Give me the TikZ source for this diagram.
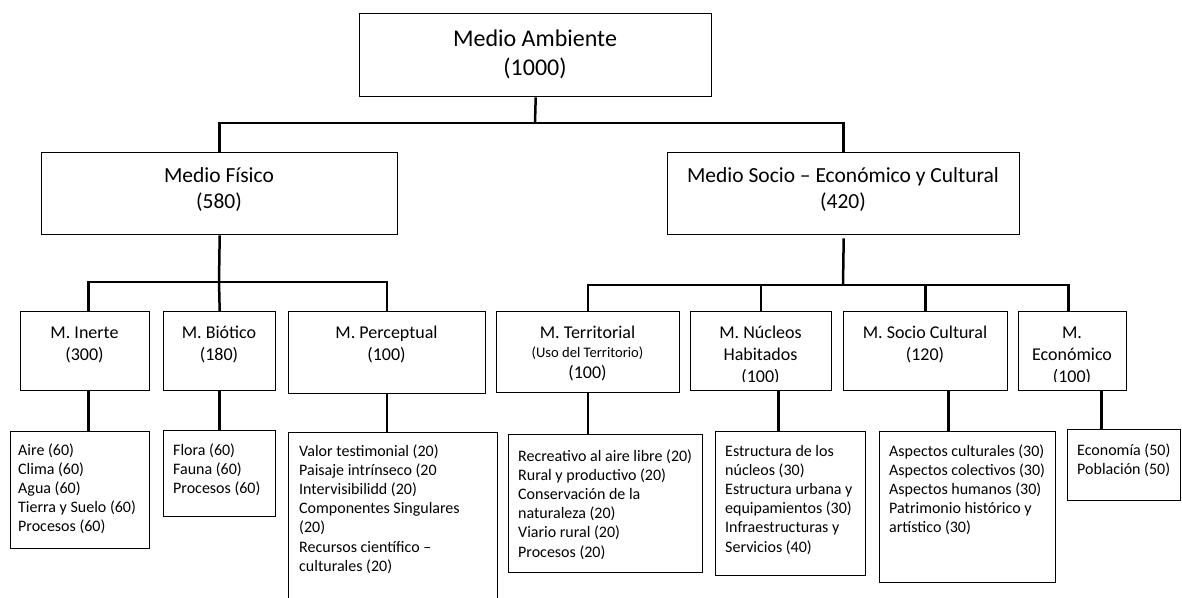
\documentclass[tikz,border=0pt]{standalone}
\usepackage{fontspec}
\setmainfont{Carlito}
\begin{document}
\begin{tikzpicture}[x=1pt,y=-1pt,
  box/.style={draw=black, line width=1.4pt, inner sep=0pt, anchor=north west},
  conn/.style={draw=black, line width=2.5pt},
  % text nodes are placed by the baseline of their last line
  tA/.style={inner sep=0pt, anchor=base, align=center, font=\fontsize{24}{29}\selectfont},
  tB/.style={inner sep=0pt, anchor=base, align=center, font=\fontsize{21.5}{26}\selectfont},
  tC/.style={inner sep=0pt, anchor=base, align=center, font=\fontsize{18}{22}\selectfont},
  lst/.style={inner sep=0pt, anchor=base west, align=left, font=\fontsize{16}{19.2}\selectfont}]
\clip (0,0) rectangle (1182,597);

% level 0
\node[box, minimum width=352pt, minimum height=83pt] (top) at (359,13) {};
% level 1
\node[box, minimum width=356pt, minimum height=82pt] (mf) at (41,152) {};
\node[box, minimum width=352pt, minimum height=82pt] (ms) at (667,152) {};
% level 2
\node[box, minimum width=129pt, minimum height=79pt] (inerte) at (20,311) {};
\node[box, minimum width=112pt, minimum height=79pt] (biotico) at (163,311) {};
\node[box, minimum width=197pt, minimum height=82pt] (percep) at (288,311) {};
\node[box, minimum width=183pt, minimum height=81pt] (territ) at (496,311) {};
\node[box, minimum width=141pt, minimum height=79pt] (nucleos) at (690,311) {};
\node[box, minimum width=164pt, minimum height=79pt] (socio) at (843,311) {};
\node[box, minimum width=108pt, minimum height=79pt] (econ) at (1018,311) {};
% lists
\node[box, minimum width=139pt, minimum height=117pt] (linerte) at (10,431) {};
\node[box, minimum width=112pt, minimum height=86pt] (lbiotico) at (163,430) {};
\node[box, minimum width=209pt, minimum height=200pt] (lpercep) at (288,432) {};
\node[box, minimum width=194pt, minimum height=138pt] (lterrit) at (508,434) {};
\node[box, minimum width=150pt, minimum height=144pt] (lnucleos) at (715,431) {};
\node[box, minimum width=176pt, minimum height=151pt] (lsocio) at (879,431) {};
\node[box, minimum width=113pt, minimum height=71pt] (lecon) at (1067,429) {};

% connectors
\coordinate (bus0) at (535,123);
\coordinate (bus1) at (219,282);
\coordinate (bus2) at (843,285);
\draw[conn] (top.south) -- (bus0);
\draw[conn] (mf.north) |- (bus0) -| (ms.north);
\draw[conn] (mf.south) -- (bus1);
\draw[conn] ([xshift=3.5pt]inerte.north) |- (bus1) -| (percep.north);
\draw[conn] (biotico.north) -- (bus1);
\draw[conn] ([yshift=-3pt]ms.south) -- (bus2);
\draw[conn] (territ.north) |- (bus2) -| ([xshift=-4pt]econ.north);
\draw[conn] (nucleos.north) -- (nucleos.north |- bus2);
\draw[conn] (socio.north) -- (socio.north |- bus2);
\draw[conn] ([xshift=3.5pt]inerte.south) -- ([xshift=3.5pt]inerte.south |- linerte.north);
\draw[conn] (biotico.south) -- (biotico.south |- lbiotico.north);
\draw[conn] (percep.south) -- (percep.south |- lpercep.north);
\draw[conn] (territ.south) -- (territ.south |- lterrit.north);
\draw[conn] ([xshift=17.5pt]nucleos.south) -- ([xshift=17.5pt]nucleos.south |- lnucleos.north);
\draw[conn] ([xshift=23pt]socio.south) -- ([xshift=23pt]socio.south |- lsocio.north);
\draw[conn] ([xshift=29pt]econ.south) -- ([xshift=29pt]econ.south |- lecon.north);

% texts
\node[tA] (top-t) at (535,75) {Medio Ambiente\\(1000)};
\node[tB] (mf-t) at (219,208) {Medio Físico\\(580)};
\node[tB] (ms-t) at (843,208) {Medio Socio – Económico y Cultural\\(420)};
\node[tC] (inerte-t) at (84.5,360) {M. Inerte\\(300)};
\node[tC] (biotico-t) at (219,360) {M. Biótico\\(180)};
\node[tC] (percep-t) at (386.5,360) {M. Perceptual\\(100)};
\node[tC] (territ-t) at (587.5,378) {M. Territorial\\[-3pt]{\fontsize{14.6}{17}\selectfont(Uso del Territorio)}\\[-1pt](100)};
\begin{scope}
  \clip (690,311) rectangle (831,381);
  \node[tC] (nucleos-t) at (760.5,382) {M. Núcleos\\Habitados\\(100)};
\end{scope}
\node[tC] (socio-t) at (925,360) {M. Socio Cultural\\(120)};
\begin{scope}
  \clip (1018,311) rectangle (1126,381);
  \node[tC] (econ-t) at (1072,382) {M.\\Económico\\(100)};
\end{scope}

\node[lst] (linerte-t) at (18,531.8) {Aire (60)\\Clima (60)\\Agua (60)\\Tierra y Suelo (60)\\Procesos (60)};
\node[lst] (lbiotico-t) at (173,493.4) {Flora (60)\\Fauna (60)\\Procesos (60)};
\node[lst] (lpercep-t) at (299,571.2) {Valor testimonial (20)\\Paisaje intrínseco (20\\Intervisibilidd (20)\\Componentes Singulares\\(20)\\Recursos científico –\\culturales (20)};
\node[lst] (lterrit-t) at (518,557) {Recreativo al aire libre (20)\\Rural y productivo (20)\\Conservación de la\\naturaleza (20)\\Viario rural (20)\\Procesos (20)};
\node[lst] (lnucleos-t) at (725,552) {Estructura de los\\núcleos (30)\\Estructura urbana y\\equipamientos (30)\\Infraestructuras y\\Servicios (40)};
\node[lst] (lsocio-t) at (889,532.8) {Aspectos culturales (30)\\Aspectos colectivos (30)\\Aspectos humanos (30)\\Patrimonio histórico y\\artístico (30)};
\node[lst] (lecon-t) at (1077,474.2) {Economía (50)\\Población (50)};
\end{tikzpicture}
\end{document}
